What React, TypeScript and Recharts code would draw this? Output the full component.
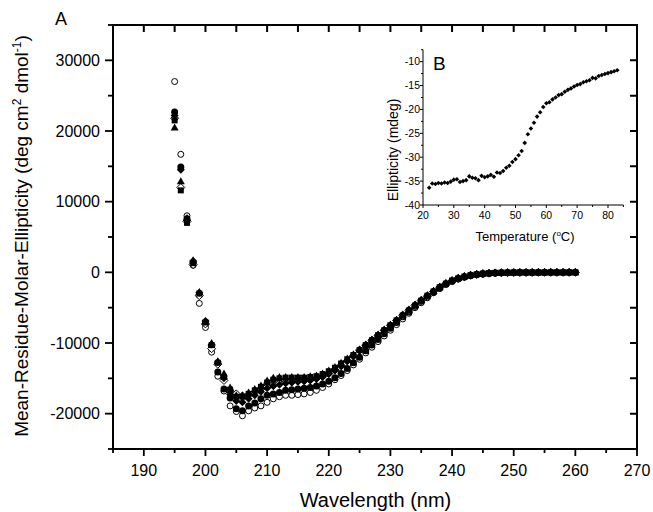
import React from 'react';
import { Scatter, ScatterChart, XAxis, YAxis } from 'recharts';

const FONT = '"Liberation Sans", Arial, Helvetica, sans-serif';

// panel A: wavelength (nm)
const WAVELENGTH = [
    195, 196, 197, 198, 199, 200, 201, 202, 203, 204, 205, 206, 207, 208, 209, 210, 211, 212, 213, 214, 215, 216,
    217, 218, 219, 220, 221, 222, 223, 224, 225, 226, 227, 228, 229, 230, 231, 232, 233, 234, 235, 236, 237, 238,
    239, 240, 241, 242, 243, 244, 245, 246, 247, 248, 249, 250, 251, 252, 253, 254, 255, 256, 257, 258, 259, 260,
];

const OPEN_CIRCLE = [
    27000, 16700, 8000, 1000, -4400, -7800, -11300, -14700, -16800, -18900,
    -19700, -20300, -19600, -19200, -18900, -18400, -17900, -17600, -17400, -17400,
    -17300, -17200, -17000, -16700, -16300, -15800, -15200, -14600, -13900, -13100,
    -12300, -11400, -10600, -9800, -9000, -8200, -7400, -6600, -5800, -5000,
    -4300, -3600, -2900, -2300, -1700, -1300, -950, -700, -500, -350,
    -250, -170, -120, -80, -60, -40, -30, -20, -20, -10,
    -10, 0, 0, 0, 0, 0,
];

const FILLED_CIRCLE = [
    22700, 14900, 7600, 1400, -3200, -7200, -10500, -14100, -16500, -17800,
    -19300, -19600, -18900, -18500, -17900, -17400, -17200, -17000, -16700, -16600,
    -16500, -16400, -16300, -16100, -15800, -15400, -14900, -14300, -13600, -12800,
    -12000, -11100, -10300, -9500, -8700, -7900, -7100, -6300, -5600, -4800,
    -4100, -3400, -2800, -2200, -1700, -1250, -900, -650, -450, -320,
    -220, -150, -100, -70, -50, -30, -20, -20, -10, -10,
    -10, 0, 0, 0, 0, 0,
];

const FILLED_DIAMOND = [
    22200, 14500, 7400, 1600, -2900, -6900, -10200, -12700, -15000, -17300,
    -18200, -18400, -17900, -17400, -16900, -16400, -16100, -15900, -15700, -15600,
    -15500, -15400, -15300, -15100, -14800, -14400, -13900, -13300, -12600, -11900,
    -11100, -10400, -9700, -9000, -8200, -7500, -6800, -6000, -5300, -4600,
    -3900, -3300, -2700, -2100, -1600, -1150, -850, -600, -420, -290,
    -200, -130, -90, -60, -40, -30, -20, -10, -10, 0,
    0, 0, 0, 0, 0, 0,
];

const OPEN_DIAMOND = [
    21800, 12000, 7200, 1100, -3300, -7300, -10800, -13000, -15300, -16800,
    -17200, -17500, -17300, -17000, -16500, -16200, -16000, -15700, -15600, -15500,
    -15400, -15300, -15200, -15000, -14700, -14300, -13800, -13200, -12500, -11800,
    -11000, -10300, -9600, -8900, -8200, -7500, -6800, -6100, -5400, -4700,
    -4000, -3400, -2700, -2100, -1600, -1200, -850, -600, -400, -280,
    -180, -120, -80, -50, -30, -20, -10, -10, 0, 0,
    0, 0, 0, 0, 0, 0,
];

const FILLED_SQUARE = [
    21500, 11600, 7000, 1300, -3000, -7100, -10300, -12800, -14800, -16600,
    -17600, -17600, -17200, -16700, -16200, -15600, -15200, -15000, -14900, -14900,
    -14900, -14900, -14800, -14700, -14400, -14000, -13500, -12900, -12300, -11700,
    -11000, -10300, -9600, -8900, -8200, -7500, -6800, -6100, -5400, -4700,
    -4000, -3300, -2700, -2100, -1600, -1150, -850, -600, -400, -270,
    -170, -110, -70, -40, -20, -10, 0, 0, 0, 0,
    0, 0, 0, 0, 0, 0,
];

const FILLED_TRIANGLE = [
    20500, 12900, 7700, 1700, -2800, -7000, -10000, -12600, -14300, -16300,
    -17400, -17400, -17000, -16500, -16000, -15300, -14900, -14800, -14800, -14800,
    -14800, -14800, -14700, -14600, -14300, -13900, -13400, -12800, -12200, -11600,
    -10900, -10200, -9500, -8800, -8100, -7400, -6700, -6000, -5300, -4600,
    -3900, -3200, -2600, -2000, -1500, -1100, -800, -550, -380, -250,
    -160, -100, -60, -40, -20, -10, 0, 0, 0, 0,
    0, 0, 0, 0, 0, 0,
];

// panel B: thermal melt
const TEMPERATURE = [
    22, 23, 24, 25, 26, 27, 28, 29, 30, 31, 32, 33, 34, 35, 36, 37, 38, 39, 40, 41, 42, 43,
    44, 45, 46, 47, 48, 49, 50, 51, 52, 53, 54, 55, 56, 57, 58, 59, 60, 61, 62, 63, 64, 65,
    66, 67, 68, 69, 70, 71, 72, 73, 74, 75, 76, 77, 78, 79, 80, 81, 82, 83,
];

const ELLIPTICITY = [
    -36.4, -35.5, -35.6, -35.4, -35.5, -35.3, -35.4, -35.1, -34.7, -34.6,
    -35.2, -35.0, -34.8, -34.0, -34.3, -34.4, -34.8, -33.9, -34.2, -34.0,
    -33.7, -34.1, -33.2, -33.3, -32.9, -32.2, -31.8, -31.0, -30.4, -29.6,
    -28.7, -27.0, -25.2, -24.0, -22.8, -21.5, -20.6, -19.5, -18.7, -18.5,
    -17.9, -17.5, -17.0, -16.8, -16.3, -15.9, -15.6, -15.2, -14.9, -14.7,
    -14.3, -14.1, -13.9, -13.4, -13.5, -13.0, -12.8, -12.6, -12.4, -12.2,
    -12.0, -11.8,
];

const MAIN_X_TICKS = [185, 190, 195, 200, 205, 210, 215, 220, 225, 230, 235, 240, 245, 250, 255, 260, 265, 270];
const MAIN_Y_TICKS = [-25000, -20000, -15000, -10000, -5000, 0, 5000, 10000, 15000, 20000, 25000, 30000, 35000];
const INSET_X_TICKS = [20, 25, 30, 35, 40, 45, 50, 55, 60, 65, 70, 75, 80, 85];
const INSET_Y_TICKS = [-40, -37.5, -35, -32.5, -30, -27.5, -25, -22.5, -20, -17.5, -15, -12.5, -10, -7.5];

const X_DOMAIN = [185, 270];
const Y_DOMAIN = [-25000, 35000];

// plot box of panel A (page px); the chart margins below are derived from it
const BOX = { left: 113, top: 25, right: 637, bottom: 449 };

const toPoints = (vals: number[]) => WAVELENGTH.map((x, i) => ({ x, y: vals[i] }));
const meltPoints = TEMPERATURE.map((x, i) => ({ x, y: ELLIPTICITY[i] }));

// same linear mapping as the chart's axes, only used for the mirrored frame ticks
const frameX = (v: number) =>
    BOX.left + ((v - X_DOMAIN[0]) / (X_DOMAIN[1] - X_DOMAIN[0])) * (BOX.right - BOX.left);
const frameY = (v: number) =>
    BOX.bottom - ((v - Y_DOMAIN[0]) / (Y_DOMAIN[1] - Y_DOMAIN[0])) * (BOX.bottom - BOX.top);

const topTickPath = MAIN_X_TICKS.map((t) => `M${frameX(t)},${BOX.top}V${BOX.top + 7}`).join('');
const rightTickPath = MAIN_Y_TICKS.map((t) => `M${BOX.right},${frameY(t)}H${BOX.right - 7}`).join('');

// marker shapes
const openCircle = (p: any) => <circle cx={p.cx} cy={p.cy} r={3} fill="#fff" stroke="#000" strokeWidth={1} />;
const filledCircle = (p: any) => <circle cx={p.cx} cy={p.cy} r={3.5} fill="#000" />;
const filledTriangle = (p: any) => (
    <polygon points={`${p.cx},${p.cy - 4} ${p.cx + 4},${p.cy + 3} ${p.cx - 4},${p.cy + 3}`} fill="#000" />
);
const filledSquare = (p: any) => <rect x={p.cx - 3} y={p.cy - 3} width={6} height={6} fill="#000" />;
const diamond = (fill: string, s: number) => (p: any) => (
    <polygon
        points={`${p.cx},${p.cy - s} ${p.cx + s},${p.cy} ${p.cx},${p.cy + s} ${p.cx - s},${p.cy}`}
        fill={fill}
        stroke={fill === '#fff' ? '#000' : 'none'}
        strokeWidth={1}
    />
);

// ticks, main panel
const BottomTick = (props: any) => {
    const { x, y, payload } = props;
    const major = payload.value % 10 === 0;
    return (
        <g>
            <line x1={x} x2={x} y1={y} y2={y + (major ? 7 : 4)} stroke="#000" strokeWidth={1.8} />
            {major && (
                <text x={x} y={y + 27} textAnchor="middle" fontSize={16} fontFamily={FONT} fill="#000">
                    {payload.value}
                </text>
            )}
        </g>
    );
};

const LeftTick = (props: any) => {
    const { x, y, payload } = props;
    const major = payload.value % 10000 === 0;
    return (
        <g>
            <line x1={x - (major ? 8 : 5)} x2={x} y1={y} y2={y} stroke="#000" strokeWidth={1.8} />
            {major && (
                <text x={x - 13} y={y} dy="0.36em" textAnchor="end" fontSize={16} fontFamily={FONT} fill="#000">
                    {payload.value}
                </text>
            )}
        </g>
    );
};

// ticks, inset
const InsetBottomTick = (props: any) => {
    const { x, y, payload } = props;
    const major = payload.value % 10 === 0;
    return (
        <g>
            <line x1={x} x2={x} y1={y} y2={y + (major ? 3 : 2)} stroke="#000" strokeWidth={1} />
            {major && (
                <text x={x} y={y + 14} textAnchor="middle" fontSize={10.5} fontFamily={FONT} fill="#000">
                    {payload.value}
                </text>
            )}
        </g>
    );
};

const InsetLeftTick = (props: any) => {
    const { x, y, payload } = props;
    const major = payload.value % 5 === 0;
    return (
        <g>
            <line x1={x - (major ? 3 : 2)} x2={x} y1={y} y2={y} stroke="#000" strokeWidth={1} />
            {major && (
                <text x={x - 3} y={y} dy="0.36em" textAnchor="end" fontSize={10.5} fontFamily={FONT} fill="#000">
                    {payload.value}
                </text>
            )}
        </g>
    );
};

const axisLine = { stroke: '#000', strokeWidth: 1.8 };
const layer = { position: 'absolute' as const, left: 0, top: 0 };

export default function App() {
    return (
        <div style={{ position: 'absolute', left: 0, top: 0, width: 653, height: 512, overflow: 'hidden', background: '#fff' }}>
            <svg width={653} height={512} style={layer}>
                {/* frame of panel A with the mirrored top / right ticks */}
                <rect
                    x={BOX.left}
                    y={BOX.top}
                    width={BOX.right - BOX.left}
                    height={BOX.bottom - BOX.top}
                    fill="none"
                    stroke="#000"
                    strokeWidth={2}
                />
                <path d={topTickPath + rightTickPath} fill="none" stroke="#000" strokeWidth={2} />
            </svg>

            <div style={layer}>
                <ScatterChart
                    width={653}
                    height={512}
                    margin={{ top: BOX.top, right: 653 - BOX.right, bottom: 512 - BOX.bottom - 40, left: BOX.left - 80 }}
                >
                    <XAxis
                        type="number"
                        dataKey="x"
                        domain={X_DOMAIN}
                        ticks={MAIN_X_TICKS}
                        interval={0}
                        allowDataOverflow
                        height={40}
                        tickSize={0}
                        tickMargin={0}
                        tickLine={false}
                        axisLine={axisLine}
                        tick={(p: any) => <BottomTick {...p} />}
                    />
                    <YAxis
                        type="number"
                        dataKey="y"
                        domain={Y_DOMAIN}
                        ticks={MAIN_Y_TICKS}
                        interval={0}
                        allowDataOverflow
                        width={80}
                        tickSize={0}
                        tickMargin={0}
                        tickLine={false}
                        axisLine={axisLine}
                        tick={(p: any) => <LeftTick {...p} />}
                    />
                    <Scatter data={toPoints(OPEN_CIRCLE)} shape={openCircle} isAnimationActive={false} />
                    <Scatter data={toPoints(FILLED_CIRCLE)} shape={filledCircle} isAnimationActive={false} />
                    <Scatter data={toPoints(OPEN_DIAMOND)} shape={diamond('#fff', 4)} isAnimationActive={false} />
                    <Scatter data={toPoints(FILLED_DIAMOND)} shape={diamond('#000', 4)} isAnimationActive={false} />
                    <Scatter data={toPoints(FILLED_SQUARE)} shape={filledSquare} isAnimationActive={false} />
                    <Scatter data={toPoints(FILLED_TRIANGLE)} shape={filledTriangle} isAnimationActive={false} />
                </ScatterChart>
            </div>

            <div style={{ position: 'absolute', left: 370, top: 40 }}>
                <ScatterChart width={270} height={220} margin={{ top: 9.7, right: 16.6, bottom: 30, left: 13 }}>
                    <XAxis
                        type="number"
                        dataKey="x"
                        domain={[20, 85]}
                        ticks={INSET_X_TICKS}
                        interval={0}
                        allowDataOverflow
                        height={25}
                        tickSize={0}
                        tickMargin={0}
                        tickLine={false}
                        axisLine={{ stroke: '#000', strokeWidth: 1 }}
                        tick={(p: any) => <InsetBottomTick {...p} />}
                    />
                    <YAxis
                        type="number"
                        dataKey="y"
                        domain={[-40, -7.5]}
                        ticks={INSET_Y_TICKS}
                        interval={0}
                        allowDataOverflow
                        width={40}
                        tickSize={0}
                        tickMargin={0}
                        tickLine={false}
                        axisLine={{ stroke: '#000', strokeWidth: 1 }}
                        tick={(p: any) => <InsetLeftTick {...p} />}
                    />
                    <Scatter data={meltPoints} shape={diamond('#000', 2.3)} isAnimationActive={false} />
                </ScatterChart>
            </div>

            <svg
                width={653}
                height={512}
                style={{ ...layer, pointerEvents: 'none' }}
                fontFamily={FONT}
                fill="#000"
            >
                <text x={55} y={25} fontSize={18}>A</text>
                <text x={433} y={70} fontSize={19}>B</text>
                <text x={375.5} y={507} fontSize={20} textAnchor="middle">Wavelength (nm)</text>
                <text x={28} y={236} fontSize={19} textAnchor="middle" transform="rotate(-90 28 236)">
                    Mean-Residue-Molar-Ellipticity (deg cm
                    <tspan dy={-7} fontSize={12}>2</tspan>
                    <tspan dy={7}> dmol</tspan>
                    <tspan dy={-7} fontSize={12}>-1</tspan>
                    <tspan dy={7}>)</tspan>
                </text>
                <text x={525} y={241} fontSize={13} textAnchor="middle">
                    Temperature (
                    <tspan dy={-5} fontSize={8}>o</tspan>
                    <tspan dy={5}>C)</tspan>
                </text>
                <text x={398} y={150} fontSize={14} textAnchor="middle" transform="rotate(-90 398 150)">
                    Ellipticity (mdeg)
                </text>
            </svg>
        </div>
    );
}
